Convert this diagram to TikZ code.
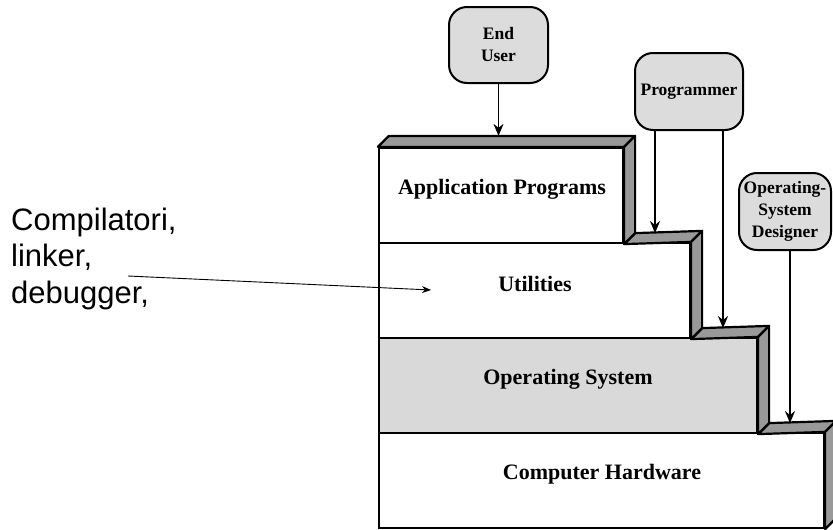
\documentclass[tikz,border=0pt]{standalone}
\usepackage{fontspec}
\setmainfont{Liberation Serif}
\newfontfamily\notefont{Liberation Sans}
\usetikzlibrary{arrows.meta,calc}
\definecolor{facegray}{HTML}{999999}
\definecolor{osgray}{HTML}{D9D9D9}
\definecolor{actorgray}{HTML}{DCDCDC}
\tikzset{
  layer/.style={draw, line width=2.2pt, fill=white, inner sep=0pt},
  face/.style={draw, line width=2.2pt, fill=facegray, line join=round},
  lbl/.style={font=\fontsize{22}{26}\selectfont\bfseries, inner sep=0pt},
  actor/.style={draw, line width=2pt, fill=actorgray, rounded corners=18pt,
    align=center, inner sep=0pt, font=\fontsize{17.5}{22}\selectfont\bfseries},
  arr/.style={line width=1.6pt, -{Stealth[length=12pt,width=10pt]}},
  note/.style={font=\notefont\fontsize{31}{36}\selectfont, inner sep=0pt, anchor=base west},
  thin arr/.style={line width=0.9pt, -{Stealth[length=9pt,width=7pt]}}
}
\begin{document}
\begin{tikzpicture}[x=1pt,y=-1pt]
\useasboundingbox (0,0) rectangle (833,530);

% front faces of the four layers
\node[layer, minimum width=445, minimum height=95] (hw)   at (601.5,480.5) {};
\node[layer, fill=osgray, minimum width=378, minimum height=95] (os) at (568,385.5) {};
\node[layer, minimum width=311, minimum height=95] (util) at (534.5,290.5) {};
\node[layer, minimum width=244, minimum height=95] (app)  at (501,195.5) {};

% back edges of the visible top faces
\coordinate (appback)  at ($(app.north west)+(11,-11)$);
\coordinate (utilback) at ($(app.south east)+(11,-11)$);
\coordinate (osback)   at ($(util.south east)+(11,-11)$);
\coordinate (hwback)   at ($(os.south east)+(11,-11)$);

% top faces (only the parts not hidden by the layer above)
\path[face] (app.north west) -- (appback) -- ($(app.north east)+(11,-11)$) -- (app.north east) -- cycle;
\path[face] (app.south east) -- (utilback) -- ($(util.north east)+(11,-11)$) -- (util.north east) -- cycle;
\path[face] (util.south east) -- (osback) -- ($(os.north east)+(11,-11)$) -- (os.north east) -- cycle;
\path[face] (os.south east) -- (hwback) -- ($(hw.north east)+(11,-11)$) -- (hw.north east) -- cycle;

% side faces
\path[face] (app.north east) -- ++(11,-11) -- ($(app.south east)+(11,-11)$) -- (app.south east) -- cycle;
\path[face] (util.north east) -- ++(11,-11) -- ($(util.south east)+(11,-11)$) -- (util.south east) -- cycle;
\path[face] (os.north east) -- ++(11,-11) -- ($(os.south east)+(11,-11)$) -- (os.south east) -- cycle;
\path[face] (hw.north east) -- ++(11,-11) -- ($(hw.south east)+(11,-11)$) -- (hw.south east) -- cycle;

% layer labels
\node[lbl] (appT)  at (502,189) {Application Programs};
\node[lbl] (utilT) at (535,284) {Utilities};
\node[lbl] (osT)   at (568,379) {Operating System};
\node[lbl] (hwT)   at (602,474) {Computer Hardware};

% the three kinds of users
\node[actor, minimum width=99, minimum height=76]  (eu)   at (498.5,45)  {End\\User};
\node[actor, minimum width=108, minimum height=77] (prog) at (689,91.5)  {Programmer};
\node[actor, minimum width=92, minimum height=77]  (osd)  at (785,211.5) {Operating-\\System\\Designer};

\coordinate (p1) at ([xshift=-34pt]prog.south);
\coordinate (p2) at ([xshift=34pt]prog.south);
\coordinate (d1) at ([xshift=5pt]osd.south);

\draw[arr] (eu.south) -- (eu.south |- appback);
\draw[arr] (p1) -- (p1 |- utilback);
\draw[arr] (p2) -- (p2 |- osback);
\draw[arr] (d1) -- (d1 |- hwback);

% side note pointing into the utilities layer
\node[note] (n1) at (11,230) {Compilatori,};
\node[note] (n2) at (11,266.5) {linker,};
\node[note] (n3) at (11,303) {debugger,};
\coordinate (nstart) at (128,276);
\coordinate (ntip) at (431,290);
\draw[thin arr] (nstart) -- (ntip);
\end{tikzpicture}
\end{document}
